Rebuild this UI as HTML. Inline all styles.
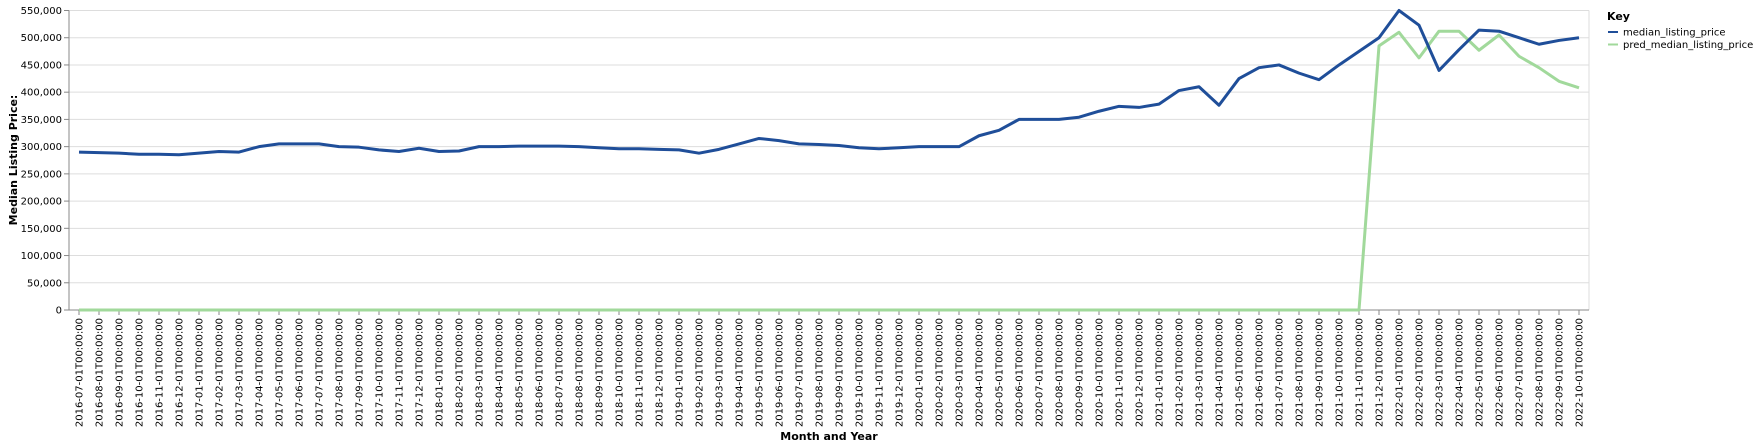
<!DOCTYPE html>
<html><head><meta charset="utf-8"><style>
body{margin:0;background:#fff;}
svg{display:block;font-family:"DejaVu Sans","Liberation Sans",sans-serif;}
</style></head><body>
<svg id="chart" width="1759" height="447"></svg>
<script>
const months = [];
for (let y = 2016, m = 7; !(y === 2022 && m === 11); ) {
  months.push(y + '-' + String(m).padStart(2, '0') + '-01T00:00:00');
  m++; if (m > 12) { m = 1; y++; }
}
const medianValues = [290000,289000,288000,286000,286000,285000,288000,291000,290000,300000,305000,305000,305000,300000,299000,294000,291000,297000,291000,292000,300000,300000,301000,301000,301000,300000,298000,296000,296000,295000,294000,288000,295000,305000,315000,311000,305000,304000,302000,298000,296000,298000,300000,300000,300000,320000,330000,350000,350000,350000,354000,365000,374000,372000,378000,403000,410000,376000,425000,445000,450000,435000,423000,450000,475000,500000,550000,523000,440000,478000,514000,512000,500000,488000,495000,500000];
const predValues = [0,0,0,0,0,0,0,0,0,0,0,0,0,0,0,0,0,0,0,0,0,0,0,0,0,0,0,0,0,0,0,0,0,0,0,0,0,0,0,0,0,0,0,0,0,0,0,0,0,0,0,0,0,0,0,0,0,0,0,0,0,0,0,0,0,485000,510000,463000,512000,512000,477000,505000,466000,445000,420000,408000];
const yTicks = [0,50000,100000,150000,200000,250000,300000,350000,400000,450000,500000,550000];

const NS = 'http://www.w3.org/2000/svg';
const svg = document.getElementById('chart');
const L = 69, R = 1589, T = 10.5, B = 310;
const step = (R - L) / months.length;
const xPos = i => L + step * (i + 0.5);
const yPos = v => B - (v / 550000) * (B - T);
function mk(tag, attrs, parent) {
  const e = document.createElementNS(NS, tag);
  for (const k in attrs) e.setAttribute(k, attrs[k]);
  (parent || svg).appendChild(e);
  return e;
}
// grid + y ticks
yTicks.forEach(v => {
  const y = yPos(v);
  const g = mk('line', {x1: L, x2: R, y1: y, y2: y, stroke: '#ddd', 'stroke-width': 1});
  
  
  mk('line', {x1: L - 5, x2: L, y1: y, y2: y, stroke: '#888'});
  const t = mk('text', {x: L - 7, y: y + 3.5, 'text-anchor': 'end', 'font-size': 10, fill: '#000'});
  t.textContent = v.toLocaleString('en-US');
  
  
});
mk('line', {x1: R, x2: R, y1: T, y2: B, stroke: '#ddd'});
mk('line', {x1: L, x2: L, y1: T, y2: B, stroke: '#888'});
mk('line', {x1: L, x2: R, y1: B, y2: B, stroke: '#888'});
// x ticks
months.forEach((m, i) => {
  const x = xPos(i);
  mk('line', {x1: x, x2: x, y1: B, y2: B + 5, stroke: '#888'});
  const t = mk('text', {x: 0, y: 0, 'text-anchor': 'end', 'font-size': 10, fill: '#000',
    transform: `translate(${x + 3.5},${B + 8}) rotate(-90)`});
  t.textContent = m;
  
  
});
// lines
function line(vals, color, name) {
  const d = vals.map((v, i) => (i ? 'L' : 'M') + xPos(i).toFixed(2) + ',' + yPos(v).toFixed(2)).join('');
  const p = mk('path', {d: d, fill: 'none', stroke: color, 'stroke-width': 3, 'stroke-linejoin': 'round'});
  
  
}
line(predValues, '#a1d99b', 'pred-median-listing-price-line');
line(medianValues, '#1f4e99', 'median-listing-price-line');
</script>
<svg width="0" height="0"></svg>
<div style="position:absolute;left:0;top:0;">
<svg width="1759" height="447" style="position:absolute;left:0;top:0;pointer-events:none">
<text x="829" y="440" text-anchor="middle" font-size="11" font-weight="bold">Month and Year</text>
<text transform="translate(17,160) rotate(-90)" text-anchor="middle" font-size="11" font-weight="bold">Median Listing Price:</text>
<g>
<text x="1607" y="20" font-size="11" font-weight="bold">Key</text>
<line x1="1608" x2="1618" y1="32" y2="32" stroke="#1f4e99" stroke-width="2"/>
<text x="1623" y="35.5" font-size="10">median_listing_price</text>
<line x1="1608" x2="1618" y1="44.5" y2="44.5" stroke="#a1d99b" stroke-width="2"/>
<text x="1623" y="48" font-size="10">pred_median_listing_price</text>
</g>
</svg>
</div>
</body></html>
